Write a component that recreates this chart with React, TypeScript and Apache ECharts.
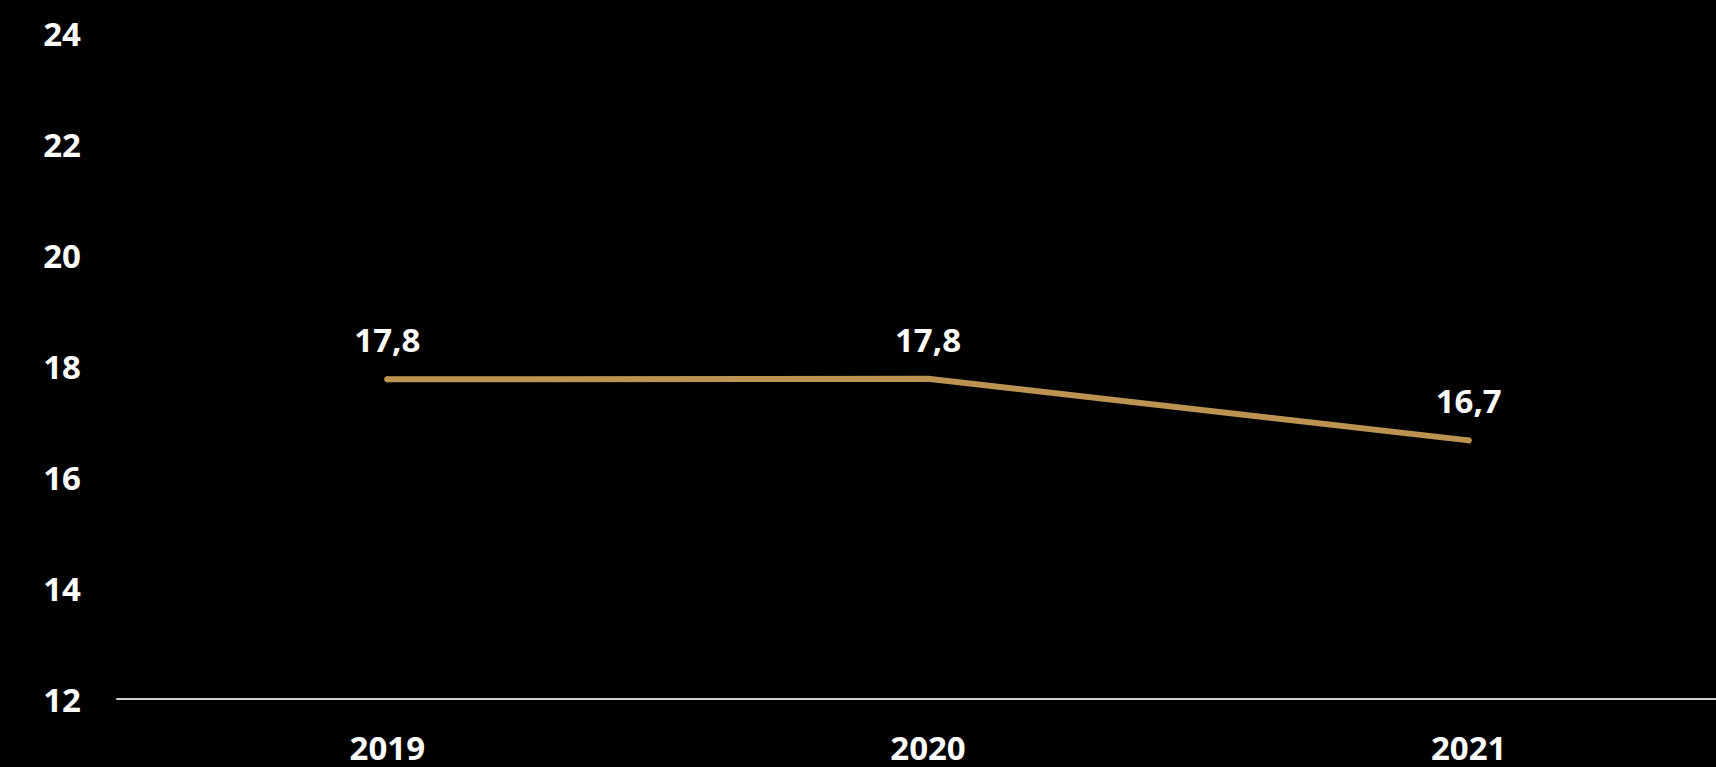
import React, { useEffect, useRef } from "react";
import * as echarts from "echarts";

const categories = ["2019", "2020", "2021"];
const values = [17.76, 17.77, 16.66];
const yMin = 12;
const yMax = 24;
const yInterval = 2;

const FONT = "'Open Sans', 'Noto Sans', sans-serif";
const LINE_COLOR = "#BC9350";

export default function App() {
  const ref = useRef<HTMLDivElement>(null);
  useEffect(() => {
    if (!ref.current) return;
    const chart = echarts.init(ref.current, null, { renderer: "svg" });
    chart.setOption({
      animation: false,
      backgroundColor: "#000000",
      grid: {
        left: 117,
        width: 1622,
        top: 33,
        bottom: 68,
        containLabel: false,
        outerBoundsMode: "none",
      },
      xAxis: {
        type: "category",
        data: categories,
        boundaryGap: true,
        axisLine: { show: true, lineStyle: { color: "#d0d0d0", width: 2 } },
        axisTick: { show: false },
        axisLabel: {
          color: "#ffffff",
          fontFamily: FONT,
          fontWeight: "bold",
          fontSize: 33,
          lineHeight: 28,
          margin: 34,
        },
      },
      yAxis: {
        type: "value",
        min: yMin,
        max: yMax,
        interval: yInterval,
        axisLine: { show: false },
        axisTick: { show: false },
        splitLine: { show: false },
        axisLabel: {
          color: "#ffffff",
          fontFamily: FONT,
          fontWeight: "bold",
          fontSize: 33,
          margin: 36,
        },
      },
      series: [
        {
          type: "line",
          data: values,
          symbol: "circle",
          symbolSize: 6,
          showSymbol: true,
          itemStyle: { color: LINE_COLOR, borderWidth: 0 },
          lineStyle: { color: LINE_COLOR, width: 6, cap: "round", join: "round" },
          label: {
            show: true,
            position: "top",
            distance: 20,
            color: "#ffffff",
            fontFamily: FONT,
            fontWeight: "bold",
            fontSize: 33,
            lineHeight: 33,
            formatter: (p: any) => p.value.toFixed(1).replace(".", ","),
          },
        },
      ],
    });
    return () => chart.dispose();
  }, []);
  return (
    <div
      ref={ref}
      style={{ position: "absolute", left: 0, top: 0, width: 1716, height: 767, background: "#000" }}
    />
  );
}
